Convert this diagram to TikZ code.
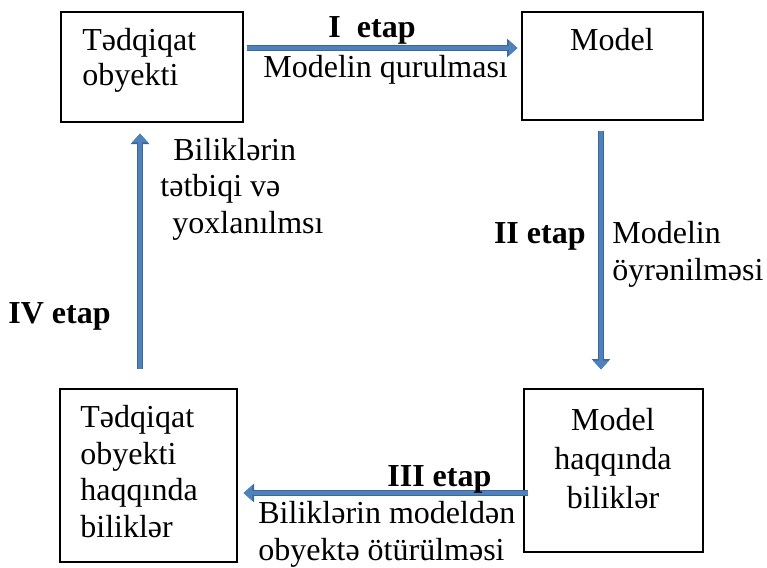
\documentclass[tikz,border=0pt]{standalone}
\usepackage{fontspec}
\setmainfont{Liberation Serif}
\usetikzlibrary{arrows.meta,calc}
\definecolor{arrowblue}{HTML}{4F81BD}
\definecolor{arrowdark}{HTML}{3B679A}
\begin{document}
\begin{tikzpicture}[x=0.5pt,y=-0.5pt,
  box/.style={draw=black,line width=0.6pt,inner sep=0pt},
  txt/.style={inner sep=0pt,font=\fontsize{16}{18.5}\selectfont},
  btxt/.style={inner sep=0pt,font=\fontsize{16}{18.5}\selectfont\bfseries},
  arr/.style={preaction={draw=arrowdark,line width=3.2pt,-{Triangle[length=5.2pt,width=9pt]}},
              draw=arrowblue,line width=2.2pt,-{Triangle[length=4.4pt,width=7.6pt]}}]
\useasboundingbox (0,0) rectangle (767,568);
% boxes
\node[box,minimum width=91pt,minimum height=55pt] (b1) at (152,67) {};
\node[box,minimum width=90.5pt,minimum height=54pt] (b2) at (612.5,66) {};
\node[box,minimum width=89.5pt,minimum height=81.5pt] (b3) at (613.5,470.5) {};
\node[box,minimum width=88.5pt,minimum height=86.5pt] (b4) at (148.5,475.5) {};
% box texts
\node[txt,anchor=base west,align=left,font=\fontsize{16}{17.5}\selectfont] (t1) at (82,85) {Tədqiqat\\obyekti};
\node[txt,anchor=base] (t2) at (612,50) {Model};
\node[txt,anchor=base,align=center,font=\fontsize{16}{19.5}\selectfont] (t3) at (613,508) {Model\\haqqında\\biliklər};
\node[txt,anchor=base west,align=left,font=\fontsize{16}{18.25}\selectfont] (t4) at (80,537) {Tədqiqat\\obyekti\\haqqında\\biliklər};
% arrows
\draw[arr] ($(b1.east)+(3,-19)$) -- ($(b2.west)+(-4,-18)$);
\draw[arr] ($(b2.south)+(-11.5,10)$) -- ($(b3.north)+(-12.5,-19)$);
\draw[arr] ($(b3.west)+(5,22.5)$) -- ($(b4.east)+(6,17.5)$);
\draw[arr] ($(b4.north)+(-8.5,-19)$) -- ($(b1.south)+(-12,11)$);
% arrow labels
\node[btxt,anchor=base] (l1a) at (372,37) {I\ \ etap};
\node[txt,anchor=base west] (l1b) at (263,77) {Modelin qurulması};
\node[btxt,anchor=base east] (l2a) at (586,243) {II etap};
\node[txt,anchor=base west,align=left] (l2b) at (612,280) {Modelin\\öyrənilməsi};
\node[btxt,anchor=base west] (l3a) at (387,486) {III etap};
\node[txt,anchor=base west,align=left] (l3b) at (258,560) {Biliklərin modeldən\\obyektə ötürülməsi};
\node[btxt,anchor=base west] (l4a) at (8,323) {IV etap};
\node[txt,anchor=base west,align=left,font=\fontsize{16}{18.25}\selectfont] (l4b) at (160,233) {\hspace{6.5pt}Biliklərin\\tətbiqi və\\\hspace{6pt}yoxlanılmsı};
\end{tikzpicture}
\end{document}
